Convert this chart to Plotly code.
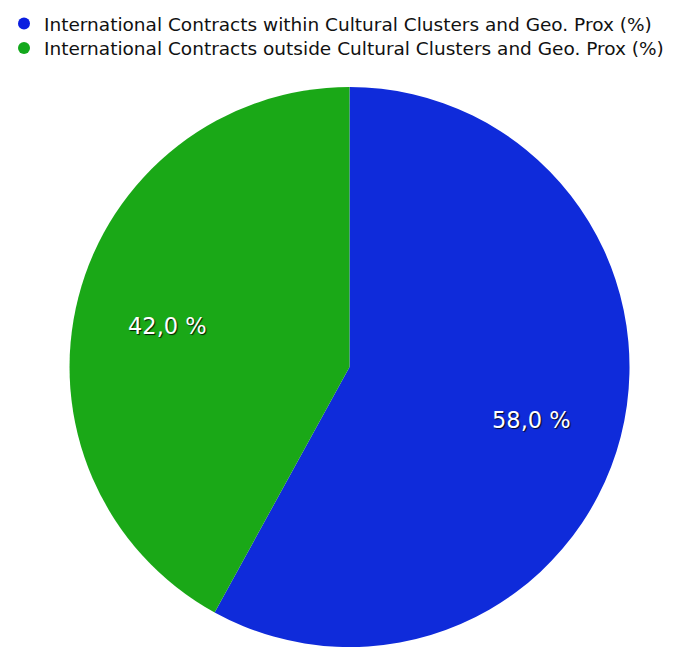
import math
import plotly.graph_objects as go

labels = [
    "International Contracts within Cultural Clusters and Geo. Prox (%)",
    "International Contracts outside Cultural Clusters and Geo. Prox (%)",
]
values = [58.0, 42.0]
slice_colors = ["#0f2bda", "#1aa817"]
legend_colors = ["#0a1ee0", "#13a81c"]

W, H = 683, 648
pie_x = [0.1018, 0.9217]
pie_y = [0.0015, 0.8657]
font_family = "DejaVu Sans, Liberation Sans, Arial, sans-serif"

fig = go.Figure()

fig.add_trace(go.Pie(
    labels=labels,
    values=values,
    sort=False,
    direction="clockwise",
    rotation=0,
    marker=dict(colors=slice_colors, line=dict(width=0)),
    textinfo="none",
    hoverinfo="label+percent",
    showlegend=False,
    domain=dict(x=pie_x, y=pie_y),
))

# value labels placed along each slice's bisector
cx = (pie_x[0] + pie_x[1]) / 2 * W
cy = (pie_y[0] + pie_y[1]) / 2 * H
radius = min((pie_x[1] - pie_x[0]) * W, (pie_y[1] - pie_y[0]) * H) / 2
total = sum(values)
start = 90.0
for v in values:
    sweep = v / total * 360.0
    mid = math.radians(start - sweep / 2)
    start -= sweep
    d = 0.67 * radius
    px = cx + d * math.cos(mid)
    py = cy + d * math.sin(mid)
    fig.add_annotation(
        x=px / W, y=py / H, xref="paper", yref="paper",
        text=f"{v:.1f}".replace(".", ",") + " %",
        showarrow=False, xanchor="center", yanchor="middle", yshift=-6,
        font=dict(family=font_family, size=22.5, color="white",
                  shadow="1px 1px 1px rgba(0,0,0,0.85)"),
    )

# legend entries with round markers, one legend box per row
legend_ids = ["legend", "legend2"]
for name, col, lg in zip(labels, legend_colors, legend_ids):
    fig.add_trace(go.Scatter(
        x=[None], y=[None], mode="markers", name=name, legend=lg,
        marker=dict(symbol="circle", size=13, color=col),
    ))

legend_style = dict(
    xanchor="left", yanchor="top", orientation="v",
    font=dict(family=font_family, size=18.5, color="#111"),
    itemsizing="constant", bgcolor="rgba(0,0,0,0)",
)

fig.update_layout(
    width=W, height=H,
    margin=dict(l=0, r=0, t=0, b=0),
    paper_bgcolor="white", plot_bgcolor="white",
    xaxis=dict(visible=False), yaxis=dict(visible=False),
    showlegend=True,
    legend=dict(x=4 / W, y=1 - 5 / H, **legend_style),
    legend2=dict(x=4 / W, y=1 - 29.5 / H, **legend_style),
)

fig.write_html("out.html")
